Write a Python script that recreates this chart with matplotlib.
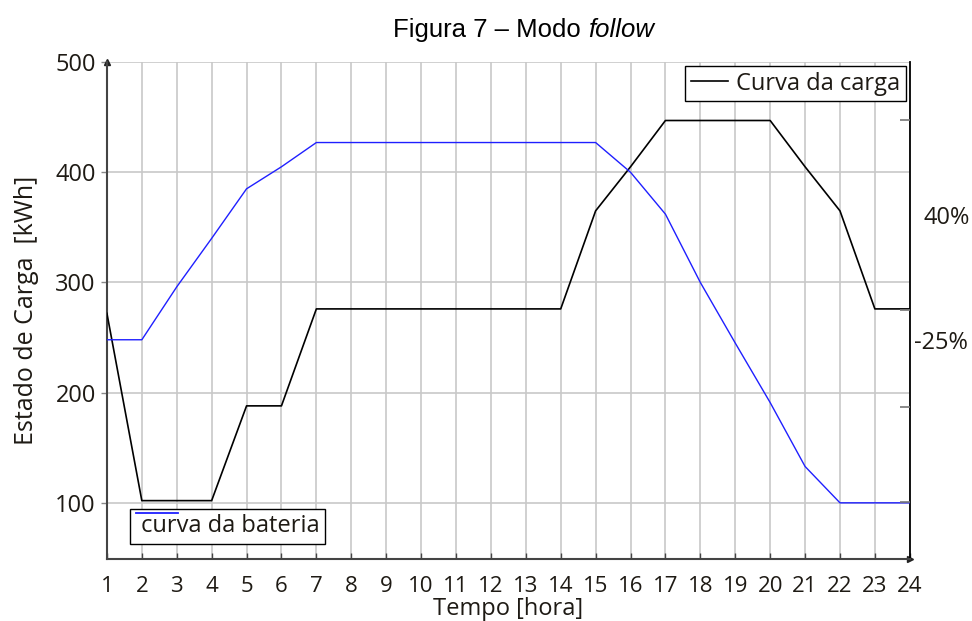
import matplotlib
matplotlib.use("Agg")
import matplotlib.pyplot as plt
from matplotlib.lines import Line2D
from matplotlib.legend_handler import HandlerLine2D

# dados
horas = list(range(1, 25))
carga = [272, 102, 102, 102, 188, 188, 276, 276, 276, 276, 276, 276, 276, 276,
         365, 405, 447, 447, 447, 447, 405, 365, 276, 276]
bateria = [248, 248, 296, 340, 385, 405, 427, 427, 427, 427, 427, 427, 427, 427,
           427, 400, 362, 300, 245, 191, 133, 100, 100, 100]
niveis_dir = [101, 187, 275, 361, 447]
rotulos_dir = ["-25%", "40%"]
pos_rotulos_dir = [248, 361]

fonte = "Open Sans"
cor_txt = "#1e1a14"


class LinhaAcima(HandlerLine2D):
    # amostra da legenda desenhada acima do texto
    def create_artists(self, legend, orig_handle, xdescent, ydescent, width,
                       height, fontsize, trans):
        arts = super().create_artists(legend, orig_handle, xdescent, ydescent,
                                      width, height, fontsize, trans)
        for a in arts:
            a.set_ydata([y + 0.47 * fontsize for y in a.get_ydata()])
        return arts


fig = plt.figure(figsize=(9.72, 6.21), dpi=100)
ax = fig.add_axes([0.110, 0.0998, 0.826, 0.8002])

ax.plot(horas, carga, color="black", lw=1.2, zorder=3)
ax.plot(horas, bateria, color="#1f1fff", lw=1.0, zorder=3)

ax.set_xlim(1, 24)
ax.set_ylim(49, 500)
ax.set_xticks(horas)
ax.set_yticks([100, 200, 300, 400, 500])
ax.grid(True, color="#c8c8c8", lw=1.2)
ax.set_axisbelow(True)

ax.tick_params(axis="x", direction="in", length=4, width=1, color="#444444",
               labelsize=16, labelcolor=cor_txt, pad=12)
ax.tick_params(axis="y", direction="out", length=4, width=1, color="#888888",
               labelsize=17, labelcolor=cor_txt, pad=4)
for lab in ax.get_xticklabels() + ax.get_yticklabels():
    lab.set_family(fonte)

ax.spines["top"].set_visible(False)
ax.spines["left"].set_color("#444444")
ax.spines["left"].set_linewidth(1.5)
ax.spines["bottom"].set_color("#444444")
ax.spines["bottom"].set_linewidth(1.5)
ax.spines["right"].set_color("black")
ax.spines["right"].set_linewidth(1.3)
ax.plot([0], [1], marker="^", ms=4, color="#222222", transform=ax.transAxes,
        clip_on=False)
ax.plot([1], [0], marker=">", ms=4, color="#222222", transform=ax.transAxes,
        clip_on=False)

ax2 = ax.twinx()
ax2.set_ylim(ax.get_ylim())
ax2.set_yticks(pos_rotulos_dir)
ax2.set_yticklabels(rotulos_dir)
ax2.set_yticks(niveis_dir, minor=True)
ax2.tick_params(axis="y", which="major", length=0, labelsize=17,
                labelcolor=cor_txt)
ax2.tick_params(axis="y", which="minor", direction="in", length=7, width=1.2,
                color="#777777")
for lab in ax2.get_yticklabels():
    lab.set_family(fonte)
ticks = ax2.yaxis.get_major_ticks()
ticks[0].set_pad(3)
ticks[1].set_pad(10)
for s in ax2.spines.values():
    s.set_visible(False)

ax.set_ylabel("Estado de Carga  [kWh]", fontsize=18, family=fonte,
              color=cor_txt, labelpad=12)
ax.set_xlabel("Tempo [hora]", fontsize=17, family=fonte, color=cor_txt,
              labelpad=0.5)

fig.text(0.605, 0.952, "Figura 7 – Modo ", ha="right", va="center",
         fontsize=18.5, family="Liberation Sans")
fig.text(0.605, 0.952, "follow", ha="left", va="center", fontsize=18.5,
         family="Liberation Sans", style="italic")

leg1 = ax2.legend([Line2D([], [], color="black", lw=1.2)], ["Curva da carga"],
                  loc="upper right", borderaxespad=0.15, fancybox=False,
                  shadow=False, framealpha=1, edgecolor="black",
                  prop={"family": fonte, "size": 17}, handlelength=1.57,
                  handletextpad=0.34, borderpad=0.25)
leg1.get_frame().set_linewidth(1.0)
for t in leg1.get_texts():
    t.set_color(cor_txt)
ax2.add_artist(leg1)

leg2 = ax2.legend([Line2D([], [], color="#1f1fff", lw=1.3)],
                  ["curva da bateria"], loc="lower left",
                  bbox_to_anchor=(0.029, 0.030), borderaxespad=0,
                  fancybox=False, framealpha=1, edgecolor="black",
                  prop={"family": fonte, "size": 17}, handlelength=1.8,
                  handletextpad=-1.6, borderpad=0.24,
                  handler_map={Line2D: LinhaAcima()})
leg2.get_frame().set_linewidth(1.0)
for t in leg2.get_texts():
    t.set_color(cor_txt)

fig.savefig("out.png", dpi=100)
